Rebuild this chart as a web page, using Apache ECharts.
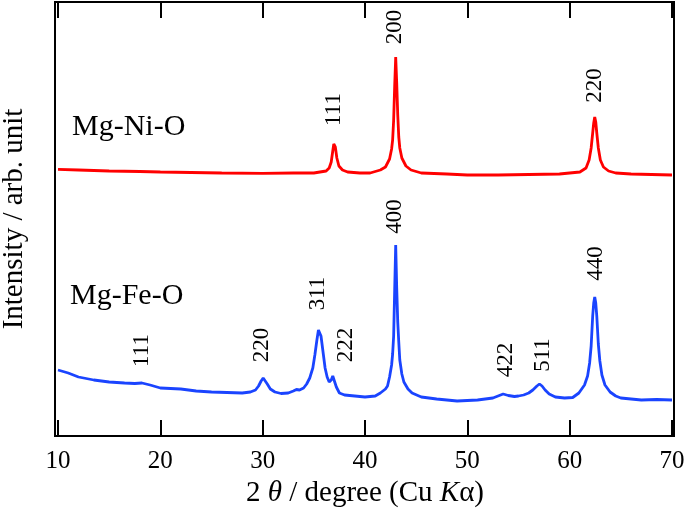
<!DOCTYPE html>
<html>
<head>
<meta charset="utf-8">
<script src="https://cdn.jsdelivr.net/npm/echarts@6/dist/echarts.min.js"></script>
<style>html,body{margin:0;padding:0;background:#fff}#c{width:685px;height:510px}</style>
</head>
<body>
<div id="c"></div>
<script>
// 2θ (degree) and intensity (arb. unit)
var xTicks = [10, 20, 30, 40, 50, 60, 70];

var mgNiO = [
  [10,270.7],[12,270],[15,269],[18,268.5],[20,268],[23,267.5],[26,267],[30,266.7],[33,267],[35,267],
  [36.2,269],[36.5,272],[36.7,278],[36.85,289],[36.95,296],[37.0,298],[37.1,293],[37.25,282],[37.45,274],[37.8,270],
  [38.3,268],[39.5,267],[40.5,267],[41.5,270],[42.0,273],[42.4,281],[42.6,291],[42.7,300],[42.8,320],[42.9,354],
  [43.0,383],[43.1,357],[43.2,325],[43.3,303],[43.4,292],[43.6,282],[44.0,274],[44.5,270],[45.5,267],[48,266],
  [50,265],[53,265],[56,265.5],[59,266],[61.0,268],[61.6,272],[61.9,280],[62.1,292],[62.25,307],[62.35,317],
  [62.45,323],[62.55,318],[62.65,307],[62.8,292],[63.0,280],[63.3,273],[63.8,269],[64.5,267],[66,266],[68,265.5],[70,265]
];

var mgFeO = [
  [10,70],[11,67],[12,63],[13.5,60],[15,58],[16.5,57],[17.5,56.5],[18.2,57],[19,55],[20,52],
  [22,51],[23.5,49],[25,48],[26.5,47.5],[28,47],[28.8,48],[29.3,50],[29.6,54],[29.85,59],[30.05,62],
  [30.2,61],[30.45,56],[30.75,51],[31.2,48],[31.8,46.5],[32.5,47],[33.0,49],[33.3,50.5],[33.6,50],[34.0,52],
  [34.3,56],[34.6,62],[34.9,72],[35.1,85],[35.3,100],[35.45,110],[35.55,111],[35.7,104],[35.9,88],[36.1,72],
  [36.3,63],[36.5,58],[36.7,60],[36.85,64],[37.0,62],[37.2,53],[37.5,47],[38,45],[39,44],[40,43],
  [41.0,44],[41.5,47],[42.0,51],[42.2,54],[42.4,63],[42.6,75],[42.7,86],[42.8,104],[42.9,150],[43.0,195],
  [43.1,152],[43.2,118],[43.3,98],[43.4,80],[43.6,66],[43.8,58],[44.2,51],[44.6,47],[45.5,43],[47,41],
  [49,39],[51,40],[52.5,42],[53.0,44],[53.5,46],[54.0,44.5],[54.6,43.5],[55.0,44],[55.5,45],[56.0,47],
  [56.4,50],[56.8,54],[57.05,56],[57.3,54],[57.6,50],[58.0,46],[58.6,43],[59.5,42],[60.3,42.5],[60.9,47],
  [61.45,55],[61.75,64],[61.95,77],[62.1,94],[62.25,124],[62.35,137],[62.45,143],[62.55,137],[62.65,124],[62.8,96],
  [62.95,79],[63.15,65],[63.45,55],[63.95,48],[64.5,44],[65,42],[66,41],[67,40],[68.5,40.5],[70,40]
];

// peak index labels [2θ, intensity, text]
var niLabels = [[37.05,330,'111'],[42.95,412.5,'200'],[62.5,354,'220']];
var feLabels = [[18.3,89,'111'],[30.0,94.5,'220'],[35.45,146,'311'],[38.2,94.5,'222'],[43.0,223,'400'],
                [53.85,79.5,'422'],[57.45,84.5,'511'],[62.6,176,'440']];

var sampleNames = ['Mg-Ni-O', 'Mg-Fe-O'];

var FONT = "'Liberation Serif', 'Times New Roman', serif";
var chart = echarts.init(document.getElementById('c'), null, {renderer: 'canvas'});

function labelSeries(arr) {
  return {
    type: 'scatter',
    symbolSize: 1,
    itemStyle: {color: 'rgba(0,0,0,0)'},
    silent: true,
    data: arr.map(function (d) { return {value: [d[0], d[1]], name: d[2]}; }),
    label: {
      show: true,
      position: [0, 0],
      align: 'center',
      verticalAlign: 'middle',
      rotate: 90,
      formatter: '{b}',
      fontFamily: FONT,
      fontSize: 23,
      color: '#000',
      textBorderWidth: 0,
      opacity: 1
    },
    emphasis: {disabled: true},
    z: 5
  };
}

chart.setOption({
  animation: false,
  grid: {left: 58, right: 13, top: 2, bottom: 74, containLabel: false, outerBoundsMode: 'none'},
  xAxis: [{
    type: 'value', min: xTicks[0], max: xTicks[xTicks.length - 1], interval: 10,
    position: 'bottom',
    axisLine: {show: false},
    axisTick: {show: true, inside: true, length: 16, lineStyle: {color: '#000', width: 2}},
    axisLabel: {margin: 13, fontFamily: FONT, fontSize: 25, color: '#000'},
    splitLine: {show: false},
    name: '2 {i|θ} / degree (Cu {i|K}α)',
    nameLocation: 'middle',
    nameGap: 43,
    nameTextStyle: {
      fontFamily: FONT, fontSize: 29, color: '#000',
      rich: {i: {fontFamily: FONT, fontSize: 29, fontStyle: 'italic', color: '#000'}}
    }
  }, {
    type: 'value', min: xTicks[0], max: xTicks[xTicks.length - 1], interval: 10,
    position: 'top',
    axisLine: {show: false},
    axisTick: {show: true, inside: true, length: 16, lineStyle: {color: '#000', width: 2}},
    axisLabel: {show: false},
    splitLine: {show: false}
  }],
  yAxis: {
    type: 'value', min: 4, max: 438,
    axisLine: {show: false}, axisTick: {show: false}, axisLabel: {show: false}, splitLine: {show: false},
    name: 'Intensity / arb. unit',
    nameLocation: 'middle',
    nameGap: 29,
    nameRotate: 90,
    nameTextStyle: {fontFamily: FONT, fontSize: 29, color: '#000'}
  },
  graphic: [
    {type: 'rect', shape: {x: 55, y: 2, width: 619, height: 434},
     style: {fill: 'none', stroke: '#000', lineWidth: 2}, z: 10, silent: true},
    {type: 'text', x: 72, y: 127, style: {text: sampleNames[0], font: '30px ' + FONT, fill: '#000', verticalAlign: 'middle'}},
    {type: 'text', x: 70, y: 296, style: {text: sampleNames[1], font: '30px ' + FONT, fill: '#000', verticalAlign: 'middle'}}
  ],
  series: [
    {type: 'line', name: sampleNames[0], data: mgNiO, showSymbol: false, symbol: 'none',
     lineStyle: {color: '#ff0000', width: 2.8}, z: 3},
    {type: 'line', name: sampleNames[1], data: mgFeO, showSymbol: false, symbol: 'none',
     lineStyle: {color: '#1a44ff', width: 2.8}, z: 3},
    labelSeries(niLabels),
    labelSeries(feLabels)
  ]
});
</script>
</body>
</html>
